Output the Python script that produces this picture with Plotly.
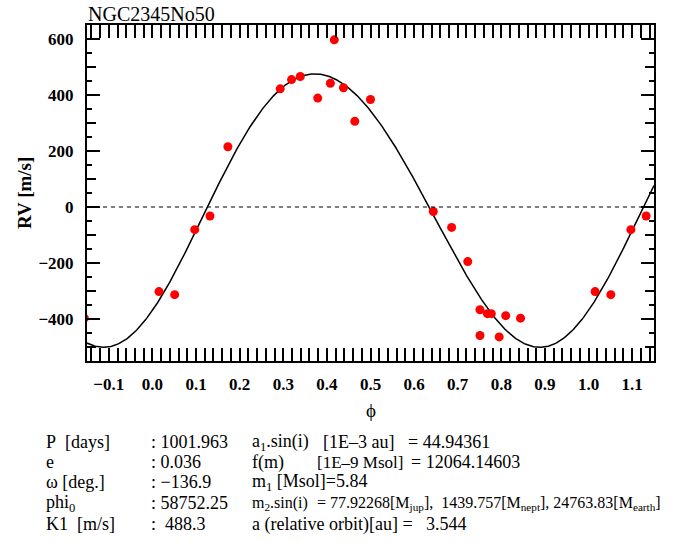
import numpy as np
import plotly.graph_objects as go

# Orbital solution
P_days = 1001.963
ecc = 0.036
omega_deg = -136.9
phi0 = 58752.25
K1 = 488.3

# Observed radial velocities folded on the orbital phase
phase = [0.015, 0.051, 0.097, 0.132, 0.173, 0.293, 0.319, 0.339, 0.379, 0.408,
         0.417, 0.438, 0.464, 0.500, 0.644, 0.686, 0.723, 0.751, 0.768, 0.777,
         0.810, 0.844, 0.751, 0.795]
rv = [-302, -313, -81, -32, 215, 422, 455, 466, 389, 442,
      597, 426, 306, 384, -16, -73, -195, -367, -381, -381,
      -388, -397, -459, -464]

x_ticks = [-0.1, 0.0, 0.1, 0.2, 0.3, 0.4, 0.5, 0.6, 0.7, 0.8, 0.9, 1.0, 1.1]
y_ticks = [-400, -200, 0, 200, 400, 600]

W, H = 681, 546
L, R, T, B = 87, 654, 25, 361
SERIF = "Liberation Serif"


def kepler_rv(ph):
    """Radial velocity of the Keplerian orbit at phase ph (periastron at 0)."""
    M = 2 * np.pi * np.asarray(ph)
    E = M.copy()
    for _ in range(50):
        E = E - (E - ecc * np.sin(E) - M) / (1 - ecc * np.cos(E))
    nu = 2 * np.arctan2(np.sqrt(1 + ecc) * np.sin(E / 2),
                        np.sqrt(1 - ecc) * np.cos(E / 2))
    w = np.radians(omega_deg)
    return K1 * (np.cos(nu + w) + ecc * np.cos(w))


ph_model = np.linspace(-0.15, 1.15, 600)
rv_model = kepler_rv(ph_model)

ph_arr = np.array(phase)
rv_arr = np.array(rv)
ph_all = np.concatenate([ph_arr - 1, ph_arr, ph_arr + 1])
rv_all = np.concatenate([rv_arr, rv_arr, rv_arr])

fig = go.Figure()
fig.add_trace(go.Scatter(x=ph_model, y=rv_model, mode="lines",
                         line=dict(color="black", width=1.5),
                         hoverinfo="skip", showlegend=False))
fig.add_trace(go.Scatter(x=ph_all, y=rv_all, mode="markers",
                         marker=dict(color="#ff0000", size=9, line=dict(width=0)),
                         cliponaxis=True, showlegend=False))
# carrier for the intermediate y ticks
fig.add_trace(go.Scatter(x=[], y=[], yaxis="y2", showlegend=False))

fig.add_hline(y=0, line=dict(color="black", width=1.2, dash="4px,4px"))

axis_common = dict(showline=True, linecolor="black", linewidth=2, mirror="allticks",
                   ticks="inside", tickcolor="black", tickwidth=1.5,
                   showgrid=False, zeroline=False)


def bold(s):
    return "<b>" + s.replace("-", "\u2212") + "</b>"


fig.update_layout(
    width=W, height=H,
    margin=dict(l=L, r=W - R, t=T, b=H - B, pad=0),
    paper_bgcolor="white", plot_bgcolor="white",
    font=dict(family=SERIF, color="black"),
    xaxis=dict(range=[-0.15, 1.15], tickvals=x_ticks,
               ticktext=[bold(f"{v:.1f}") for v in x_ticks],
               ticklen=13,
               minor=dict(ticks="inside", dtick=0.02, tick0=0, ticklen=7,
                          tickcolor="black", tickwidth=1.5, showgrid=False),
               tickfont=dict(family=SERIF, size=17),
               ticklabelstandoff=7,
               **axis_common),
    yaxis=dict(range=[-550, 650], tickvals=y_ticks,
               ticktext=[bold(str(v)) for v in y_ticks],
               ticklen=13,
               minor=dict(ticks="inside", dtick=50, tick0=0, ticklen=5,
                          tickcolor="black", tickwidth=1.5, showgrid=False),
               tickfont=dict(family=SERIF, size=17),
               ticklabelstandoff=8,
               **axis_common),
    yaxis2=dict(range=[-550, 650], overlaying="y", side="left", dtick=100, tick0=0,
                ticks="inside", ticklen=9, tickwidth=1.5, tickcolor="black",
                mirror="ticks", showline=False, showgrid=False, zeroline=False,
                showticklabels=False),
)


def px_x(x):
    return (x - L) / (R - L)


def px_y(y):
    return (B - y) / (B - T)


def text(x, y, s, size=18, xanchor="left", yanchor="middle", angle=0):
    fig.add_annotation(x=px_x(x), y=px_y(y), xref="paper", yref="paper",
                       text=s, showarrow=False, xanchor=xanchor, yanchor=yanchor,
                       textangle=angle,
                       font=dict(family=SERIF, size=size, color="black"))


text(86, 14, "NGC2345No50", size=20)
text(24, 193, "<b>RV [m/s]</b>", size=19, xanchor="center", angle=-90)
text(370.5, 410, "\u03d5", size=19, xanchor="center")

rows_y = [442, 462, 482, 503, 524]
col1 = ["P\u00a0\u00a0[days]", "e", "\u03c9 [deg.]", "phi<sub>0</sub>", "K1\u00a0\u00a0[m/s]"]
col2 = [f": {P_days:.3f}", f": {ecc:.3f}", f": \u2212{abs(omega_deg):.1f}",
        f": {phi0:.2f}", f":\u00a0\u00a0{K1:.1f}"]
for yy, a, b in zip(rows_y, col1, col2):
    text(44, yy, a)
    text(149, yy, b)

text(250, rows_y[0], "a<sub>1</sub>.sin(i)")
text(321, rows_y[0], "[1E\u20133 au]")
text(406, rows_y[0], "= 44.94361")
text(250, rows_y[1], "f(m)")
text(315, rows_y[1], "[1E\u20139 Msol]", size=17)
text(409, rows_y[1], "= 12064.14603")
text(250, rows_y[2], "m<sub>1</sub> [Msol]=5.84")
text(250, rows_y[3], "m<sub>2</sub>.sin(i)", size=16)
text(315, rows_y[3], "= 77.92268[M<sub>jup</sub>],\u00a0\u00a01439.757[M<sub>nept</sub>], "
                     "24763.83[M<sub>earth</sub>]", size=16)
text(250, rows_y[4], "a (relative orbit)[au] =\u00a0\u00a0\u00a03.544")

fig.write_html("out.html")
